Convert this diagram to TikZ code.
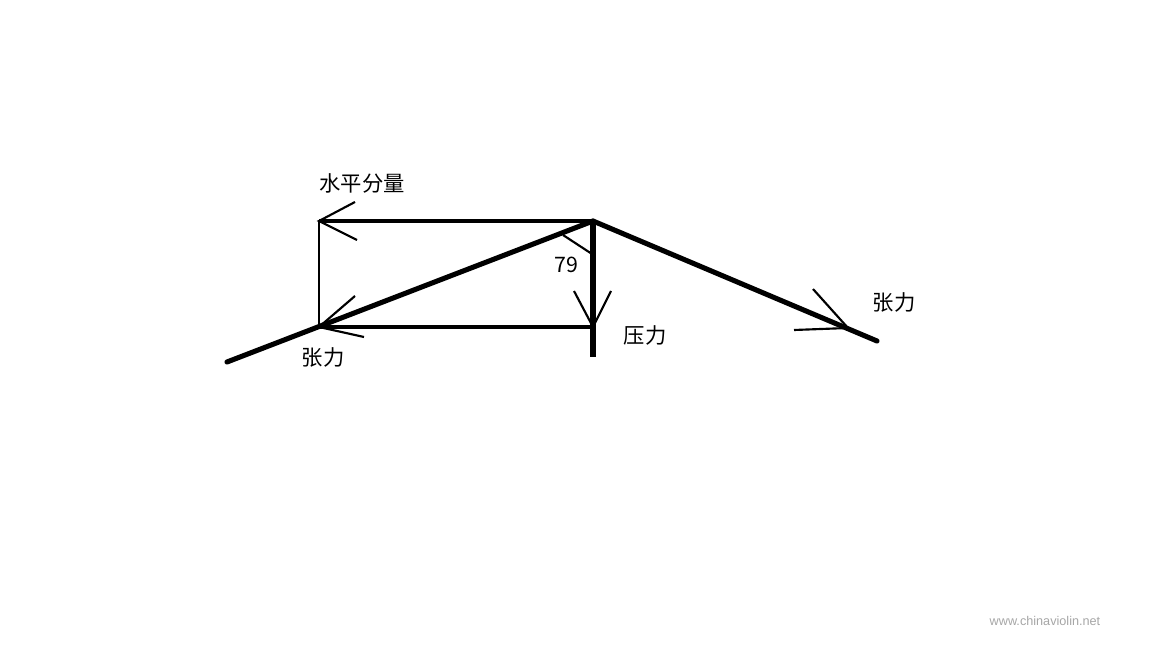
\documentclass[tikz,border=0pt]{standalone}
\usepackage{fontspec}
\setmainfont{Liberation Sans}
\newfontfamily\cjk{Noto Sans CJK SC}
\begin{document}
\begin{tikzpicture}[x=0.75pt,y=-0.75pt,
  thickline/.style={line width=3.8pt,line cap=round},
  midline/.style={line width=2.3pt},
  thinline/.style={line width=0.8pt},
  headline/.style={line width=1.6pt},
  lbl/.style={font=\cjk\fontsize{16}{19}\selectfont,inner sep=0pt,anchor=center},
  wm/.style={font=\fontsize{9.5}{11}\selectfont,text=black!35,inner sep=0pt}]
\useasboundingbox (0,0) rectangle (1152,648);
% key points
\coordinate (P) at (593,221);
\coordinate (TL) at (319,221);
\coordinate (BL) at (319,327);
\coordinate (BR) at (593,327);
\coordinate (LE) at (227,362);
\coordinate (RE) at (877,341);
\coordinate (VE) at (593,357);
\coordinate (RA) at (848,328);
% arrowhead arms
\coordinate (TLa) at (355,202);
\coordinate (TLb) at (357,240);
\coordinate (BLa) at (355,296);
\coordinate (BLb) at (364,337);
\coordinate (BRa) at (574,291);
\coordinate (BRb) at (611,291);
\coordinate (RAa) at (813,289);
\coordinate (RAb) at (794,330);
\coordinate (Ang1) at (563,235);
\coordinate (Ang2) at (592,254);
% rectangle
\draw[midline] (TL) -- (P);
\draw[midline] (BL) -- (BR);
\draw[thinline] (TL) -- (BL);
% string
\draw[thickline] (LE) -- (P) -- (RE);
\draw[thickline,line cap=butt] (P) -- (VE);
% angle mark
\draw[headline] (Ang1) -- (Ang2);
% arrowheads
\draw[headline] (TLa) -- (TL) -- (TLb);
\draw[headline] (BLa) -- (BL) -- (BLb);
\draw[headline] (BRa) -- (BR) -- (BRb);
\draw[headline] (RAa) -- (RA) -- (RAb);
% labels
\node[lbl] (h) at (362,183) {水平分量};
\node[lbl] (a) at (566,265) {79};
\node[lbl] (t1) at (323,357) {张力};
\node[lbl] (p) at (645,335) {压力};
\node[lbl] (t2) at (894,302) {张力};
\node[wm] (w) at (1045,621) {www.chinaviolin.net};
\end{tikzpicture}
\end{document}
